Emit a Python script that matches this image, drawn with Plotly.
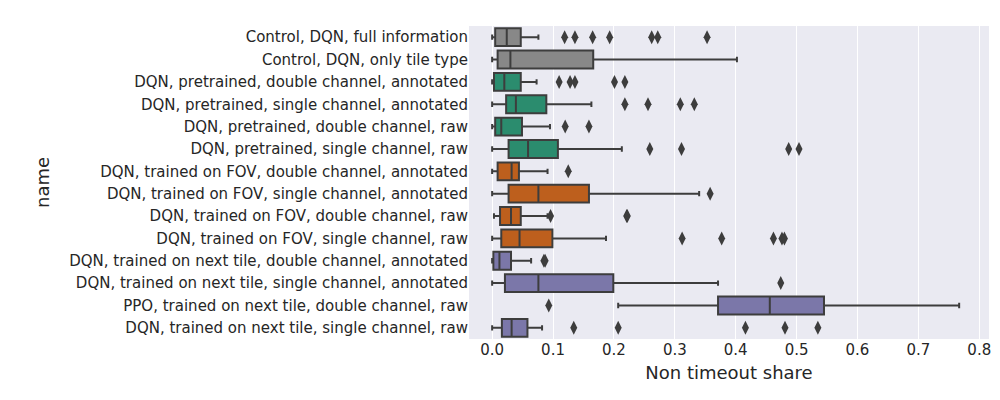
import plotly.graph_objects as go

names = [
    "Control, DQN, full information",
    "Control, DQN, only tile type",
    "DQN, pretrained, double channel, annotated",
    "DQN, pretrained, single channel, annotated",
    "DQN, pretrained, double channel, raw",
    "DQN, pretrained, single channel, raw",
    "DQN, trained on FOV, double channel, annotated",
    "DQN, trained on FOV, single channel, annotated",
    "DQN, trained on FOV, double channel, raw",
    "DQN, trained on FOV, single channel, raw",
    "DQN, trained on next tile, double channel, annotated",
    "DQN, trained on next tile, single channel, annotated",
    "PPO, trained on next tile, double channel, raw",
    "DQN, trained on next tile, single channel, raw",
]
lower = [0.0, 0.0, 0.0, 0.0, 0.0, 0.0, 0.0, 0.0, 0.003, 0.0, 0.0, 0.0, 0.207, 0.0]
q1 = [0.005, 0.009, 0.003, 0.023, 0.005, 0.027, 0.009, 0.027, 0.013, 0.015, 0.002, 0.021, 0.371, 0.016]
median = [0.024, 0.030, 0.020, 0.039, 0.015, 0.059, 0.032, 0.076, 0.031, 0.045, 0.012, 0.076, 0.456, 0.032]
q3 = [0.047, 0.166, 0.047, 0.089, 0.049, 0.108, 0.044, 0.159, 0.047, 0.099, 0.031, 0.199, 0.545, 0.058]
upper = [0.076, 0.402, 0.073, 0.163, 0.095, 0.213, 0.091, 0.340, 0.091, 0.187, 0.064, 0.371, 0.767, 0.082]
outliers = [
    [0.119, 0.136, 0.165, 0.193, 0.262, 0.272, 0.353],
    [],
    [0.110, 0.128, 0.136, 0.201, 0.218],
    [0.218, 0.256, 0.309, 0.332],
    [0.120, 0.159],
    [0.259, 0.311, 0.487, 0.504],
    [0.125],
    [0.358],
    [0.096, 0.221, 0.222],
    [0.312, 0.377, 0.462, 0.476, 0.480],
    [0.085, 0.087],
    [0.474],
    [0.093],
    [0.134, 0.207, 0.416, 0.481, 0.535],
]
groups = ["gray"] * 2 + ["green"] * 4 + ["orange"] * 4 + ["purple"] * 4
palette = {"gray": "#888888", "green": "#2b8c6e", "orange": "#bd5f1d", "purple": "#7b77a9"}

fig = go.Figure()
for i, n in enumerate(names):
    fig.add_trace(go.Box(
        y=[n], q1=[q1[i]], median=[median[i]], q3=[q3[i]],
        lowerfence=[lower[i]], upperfence=[upper[i]],
        orientation="h", width=0.8, whiskerwidth=0.3,
        fillcolor=palette[groups[i]], line=dict(color="#3d3d3d", width=2),
        showlegend=False, hoverinfo="skip"))
    if outliers[i]:
        fig.add_trace(go.Scatter(
            x=outliers[i], y=[n] * len(outliers[i]), mode="markers",
            marker=dict(symbol="diamond-tall", size=10, color="#3d3d3d"),
            showlegend=False))

fig.update_layout(
    width=1000, height=400, plot_bgcolor="#eaeaf2", paper_bgcolor="white",
    margin=dict(l=461, r=19, t=18, b=69), boxmode="overlay",
    font=dict(family="DejaVu Sans", size=15, color="#262626"),
)
fig.update_xaxes(range=[-0.038, 0.816], dtick=0.1, tickformat=".1f",
                 gridcolor="white", gridwidth=1.2, zeroline=False,
                 title=dict(text="Non timeout share", standoff=8),
                 ticks="", showline=False, automargin=False)
fig.update_yaxes(categoryorder="array", categoryarray=names,
                 showgrid=False, title=dict(text="name", standoff=14), ticks="",
                 zeroline=False, range=[len(names) - 0.5, -0.5], automargin=False)
fig.write_html("out.html")
